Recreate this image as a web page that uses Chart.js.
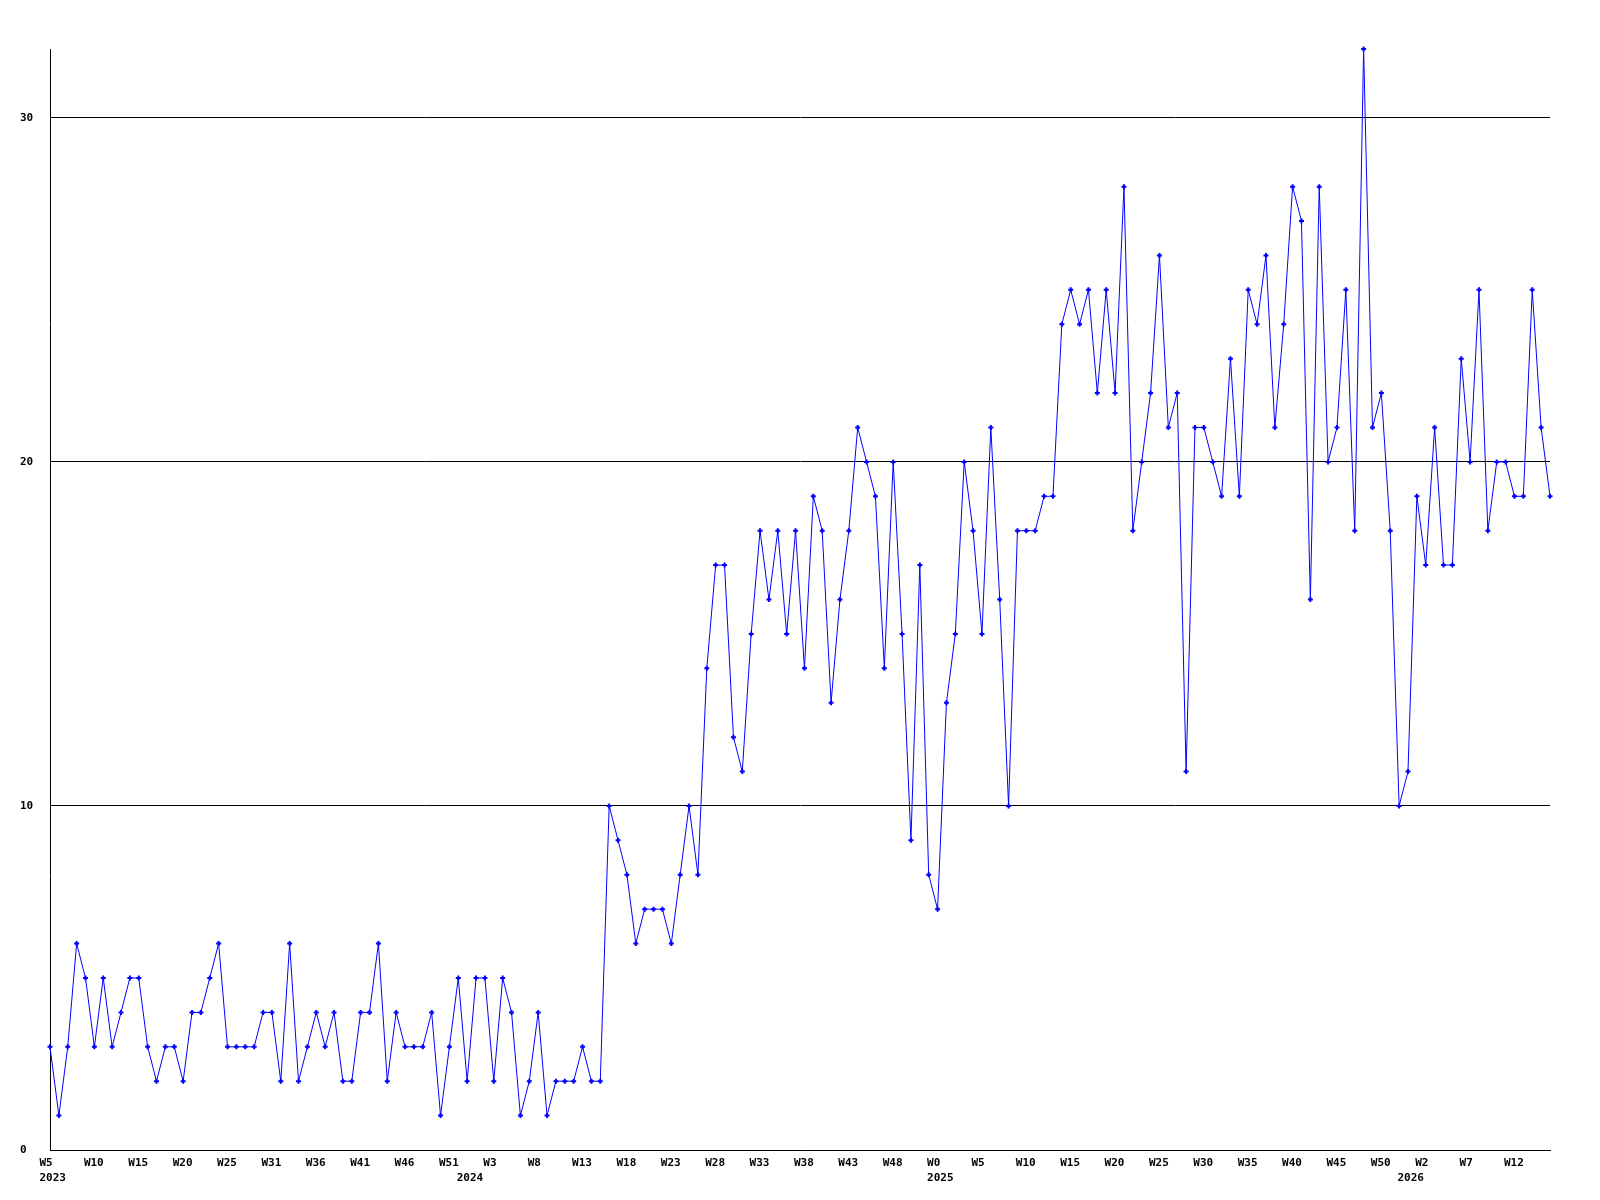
<!DOCTYPE html>
<html>
<head>
<meta charset="utf-8">
<title>Weekly chart</title>
<script src="https://cdn.jsdelivr.net/npm/chart.js@4/dist/chart.umd.min.js"></script>
<style>
    html, body { margin: 0; padding: 0; background: #ffffff; }
    canvas { display: block; }
</style>
</head>
<body>
<canvas id="weeklyChart" width="1600" height="1200"></canvas>
<script>
// Weekly values, one per point (W5 2023 ... W15 2026)
const values = [
    3, 1, 3, 6, 5, 3, 5, 3, 4, 5, 5, 3, 2, 3, 3, 2, 4, 4, 5, 6,
    3, 3, 3, 3, 4, 4, 2, 6, 2, 3, 4, 3, 4, 2, 2, 4, 4, 6, 2, 4,
    3, 3, 3, 4, 1, 3, 5, 2, 5, 5, 2, 5, 4, 1, 2, 4, 1, 2, 2, 2,
    3, 2, 2, 10, 9, 8, 6, 7, 7, 7, 6, 8, 10, 8, 14, 17, 17, 12, 11, 15,
    18, 16, 18, 15, 18, 14, 19, 18, 13, 16, 18, 21, 20, 19, 14, 20, 15, 9, 17, 8,
    7, 13, 15, 20, 18, 15, 21, 16, 10, 18, 18, 18, 19, 19, 24, 25, 24, 25, 22, 25,
    22, 28, 18, 20, 22, 26, 21, 22, 11, 21, 21, 20, 19, 23, 19, 25, 24, 26, 21, 24,
    28, 27, 16, 28, 20, 21, 25, 18, 32, 21, 22, 18, 10, 11, 19, 17, 21, 17, 17, 23,
    20, 25, 18, 20, 20, 19, 19, 25, 21, 19
];

// Week tick labels, shown on every fifth point
const weekTicks = [
    'W5', 'W10', 'W15', 'W20', 'W25', 'W31', 'W36', 'W41', 'W46', 'W51',
    'W3', 'W8', 'W13', 'W18', 'W23', 'W28', 'W33', 'W38', 'W43', 'W48',
    'W0', 'W5', 'W10', 'W15', 'W20', 'W25', 'W30', 'W35', 'W40', 'W45',
    'W50', 'W2', 'W7', 'W12'
];
const WEEK_TICK_STEP = 5;

// Year labels and the point where each year starts
const yearTicks = ['2023', '2024', '2025', '2026'];
const yearTickIndex = [0, 47, 100, 153];

// Value axis ticks
const yTicks = [0, 10, 20, 30];
const Y_MAX = 32;

const CONFIG = {
    LINE_COLOR: '#0000ff',
    GRID_COLOR: '#000000',
    TEXT_COLOR: '#000000',
    FONT: { family: '"DejaVu Sans Mono", "Liberation Mono", monospace', size: 11, weight: 'bold', lineHeight: 1.4 }
};

const categories = values.map((_, i) => i);

// x tick label: week on every fifth point, year underneath where a year starts
function xTickLabel(value, index) {
    const week = index % WEEK_TICK_STEP === 0 ? (weekTicks[index / WEEK_TICK_STEP] || '') : '';
    const y = yearTickIndex.indexOf(index);
    if (y >= 0) {
        return [week, yearTicks[y]];
    }
    return week;
}

const ctx = document.getElementById('weeklyChart').getContext('2d');
new Chart(ctx, {
    type: 'line',
    data: {
        labels: categories,
        datasets: [{
            data: values,
            borderColor: CONFIG.LINE_COLOR,
            backgroundColor: CONFIG.LINE_COLOR,
            borderWidth: 1,
            tension: 0,
            fill: false,
            pointStyle: 'cross',
            pointRadius: 2.5,
            pointBorderWidth: 2,
            pointBorderColor: CONFIG.LINE_COLOR,
            clip: false
        }]
    },
    options: {
        responsive: false,
        animation: false,
        devicePixelRatio: 1,
        layout: {
            padding: { left: 20, right: 50, top: 49, bottom: 0 }
        },
        plugins: {
            legend: { display: false },
            tooltip: { enabled: false }
        },
        scales: {
            x: {
                type: 'category',
                offset: false,
                grid: { display: false, drawTicks: false },
                border: { display: true, color: CONFIG.GRID_COLOR, width: 1 },
                ticks: {
                    autoSkip: false,
                    maxRotation: 0,
                    minRotation: 0,
                    align: 'start',
                    labelOffset: -10.5,
                    padding: 5,
                    color: CONFIG.TEXT_COLOR,
                    font: CONFIG.FONT,
                    callback: xTickLabel
                },
                afterFit: (scale) => { scale.height = 50; }
            },
            y: {
                min: 0,
                max: Y_MAX,
                grid: {
                    color: CONFIG.GRID_COLOR,
                    lineWidth: 1,
                    drawTicks: false
                },
                border: { display: true, color: CONFIG.GRID_COLOR, width: 1 },
                ticks: {
                    crossAlign: 'far',
                    padding: 0,
                    color: CONFIG.TEXT_COLOR,
                    font: CONFIG.FONT
                },
                afterBuildTicks: (scale) => {
                    scale.ticks = yTicks.map(v => ({ value: v }));
                },
                afterFit: (scale) => { scale.width = 30; }
            }
        }
    }
});
</script>
</body>
</html>
